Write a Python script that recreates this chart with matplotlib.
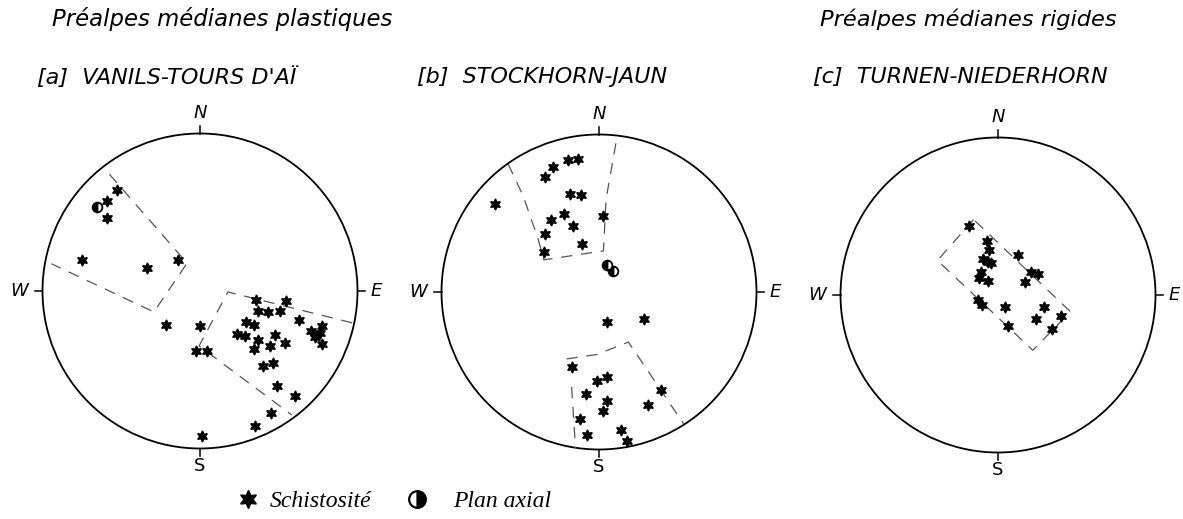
import matplotlib.pyplot as plt
from matplotlib.patches import Circle

# [a] Vanils - Tours d'Aï
a_schist_x = [-0.524, -0.592, -0.592, -0.747, -0.339, -0.137, -0.219, -0.002, -0.023, 0.044,
              0.356, 0.549, 0.366, 0.432, 0.509, 0.629, 0.293, 0.345, 0.238, 0.288,
              0.478, 0.366, 0.345, 0.444, 0.537, 0.703, 0.731, 0.777, 0.760, 0.777,
              0.398, 0.461, 0.486, 0.604, 0.453, 0.349, 0.015]
a_schist_y = [0.644, 0.573, 0.463, 0.196, 0.149, 0.194, -0.217, -0.223, -0.381, -0.381,
              -0.057, -0.065, -0.124, -0.131, -0.124, -0.181, -0.198, -0.213, -0.272, -0.286,
              -0.278, -0.309, -0.366, -0.349, -0.328, -0.255, -0.293, -0.223, -0.265, -0.339,
              -0.476, -0.459, -0.602, -0.669, -0.775, -0.859, -0.918]
a_axial_x = [-0.655]
a_axial_y = [0.531]
a_zones = [
    ([-0.575, -0.082, -0.293, -0.943], [0.741, 0.177, -0.133, 0.173]),
    ([0.966, 0.177, -0.006, 0.583], [-0.202, -0.006, -0.349, -0.787]),
]

# [b] Stockhorn - Jaun
b_schist_x = [-0.662, -0.291, -0.200, -0.132, -0.340, -0.183, -0.117, -0.223, -0.306, -0.168,
              -0.344, -0.108, -0.348, 0.028, 0.053, 0.287, -0.174, -0.015, 0.053, -0.085,
              0.053, 0.028, 0.393, 0.310, -0.121, -0.079, 0.140, 0.180]
b_schist_y = [0.556, 0.791, 0.838, 0.842, 0.728, 0.624, 0.616, 0.497, 0.459, 0.418,
              0.369, 0.304, 0.255, 0.484, -0.191, -0.170, -0.476, -0.563, -0.539, -0.650,
              -0.694, -0.757, -0.624, -0.720, -0.807, -0.911, -0.875, -0.947]
b_axial_x = [0.049, 0.087]
b_axial_y = [0.172, 0.134]
b_zones = [
    ([-0.577, -0.482, -0.386, -0.350, 0.028, 0.045, 0.113],
     [0.813, 0.611, 0.335, 0.204, 0.261, 0.590, 0.977]),
    ([-0.206, -0.015, 0.187, 0.537], [-0.425, -0.397, -0.318, -0.837]),
    ([-0.174, -0.149], [-0.603, -0.992]),
]

# [c] Turnen - Niederhorn
c_schist_x = [-0.187, -0.070, -0.055, -0.094, -0.066, -0.045, -0.109, -0.119, -0.064, 0.130,
              0.211, 0.253, 0.170, -0.126, -0.104, 0.043, 0.289, 0.398, 0.243, 0.062, 0.345]
c_schist_y = [0.436, 0.340, 0.287, 0.228, 0.209, 0.202, 0.149, 0.111, 0.089, 0.255,
              0.143, 0.132, 0.081, -0.032, -0.064, -0.074, -0.079, -0.132, -0.155, -0.198, -0.213]
c_axial_x = []
c_axial_y = []
c_zones = [
    ([-0.155, -0.385, 0.221, 0.460, -0.155], [0.479, 0.219, -0.351, -0.106, 0.479]),
]

nets = [
    ("[a]  VANILS-TOURS D'AÏ", (200, 291), a_schist_x, a_schist_y, a_axial_x, a_axial_y, a_zones),
    ("[b]  STOCKHORN-JAUN", (599, 292), b_schist_x, b_schist_y, b_axial_x, b_axial_y, b_zones),
    ("[c]  TURNEN-NIEDERHORN", (998, 295), c_schist_x, c_schist_y, c_axial_x, c_axial_y, c_zones),
]
title_x = [37, 417, 813]

W, H = 1183, 519
R = 157.5
LIM = 1.25
star = (6, 1, 0)
letter = dict(family='DejaVu Sans', style='oblique', color='black')
key_font = dict(family='Liberation Serif', style='italic', fontsize=17)

fig = plt.figure(figsize=(W / 100, H / 100), dpi=100)

for title, (cx, cy), sx, sy, px, py, zones in nets:
    h = LIM * R
    ax = fig.add_axes([(cx - h) / W, (H - cy - h) / H, 2 * h / W, 2 * h / H])
    ax.set_xlim(-LIM, LIM)
    ax.set_ylim(-LIM, LIM)
    ax.set_aspect('equal')
    ax.axis('off')

    ax.add_patch(Circle((0, 0), 1, fill=False, lw=1.3, color='black'))
    # N, E, S, W ticks
    ax.plot([0, 0], [1, 1.05], color='black', lw=1.1)
    ax.plot([0, 0], [-1, -1.05], color='black', lw=1.1)
    ax.plot([1, 1.05], [0, 0], color='black', lw=1.1)
    ax.plot([-1, -1.05], [0, 0], color='black', lw=1.1)
    ax.text(0, 1.13, 'N', ha='center', va='center', fontsize=13, **letter)
    ax.text(0, -1.11, 'S', ha='center', va='center', fontsize=13, family='DejaVu Sans')
    ax.text(1.12, 0, 'E', ha='center', va='center', fontsize=13, **letter)
    ax.text(-1.15, 0, 'W', ha='center', va='center', fontsize=13, **letter)

    for zx, zy in zones:
        ax.plot(zx, zy, color='#555555', lw=0.9, dashes=(9, 7))

    ax.plot(sx, sy, ls='none', marker=star, ms=8, color='black')
    ax.plot(px, py, ls='none', marker='o', ms=7, fillstyle='left',
            markerfacecolor='black', markerfacecoloralt='white',
            markeredgecolor='black', markeredgewidth=1.3)

# headings
fig.text(52 / W, 1 - 19 / H, 'Préalpes médianes plastiques', ha='left', va='center',
         fontsize=16.4, **letter)
fig.text(820 / W, 1 - 19 / H, 'Préalpes médianes rigides', ha='left', va='center',
         fontsize=16.2, **letter)
for net, x0 in zip(nets, title_x):
    fig.text(x0 / W, 1 - 77 / H, net[0], ha='left', va='center', fontsize=16, **letter)

# key, laid out in pixel coordinates
key = fig.add_axes([0, 0, 1, 1])
key.set_xlim(0, W)
key.set_ylim(H, 0)
key.axis('off')
key.plot([248], [499], ls='none', marker=star, ms=13, color='black')
key.text(270, 507, 'Schistosité', ha='left', va='baseline', **key_font)
key.plot([417], [499], ls='none', marker='o', ms=12, fillstyle='right',
         markerfacecolor='black', markerfacecoloralt='white',
         markeredgecolor='black', markeredgewidth=1.6)
key.text(453, 507, 'Plan axial', ha='left', va='baseline', **key_font)

fig.savefig('out.png', dpi=100)
